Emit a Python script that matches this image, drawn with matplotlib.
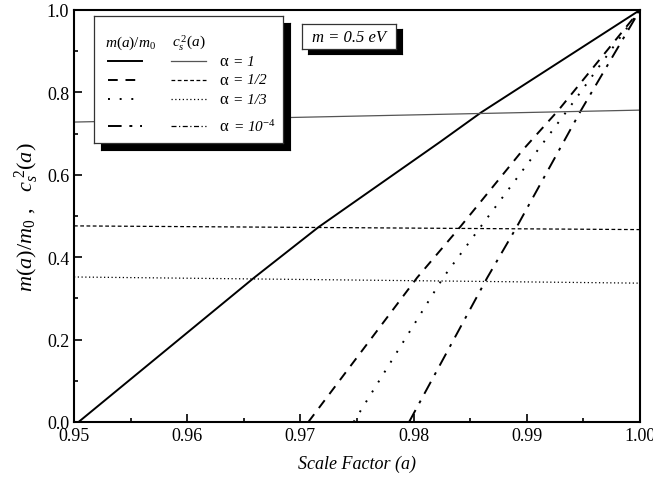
import numpy as np
import matplotlib
matplotlib.use('Agg')
import matplotlib.pyplot as plt
from matplotlib.ticker import MultipleLocator

plt.rcParams['font.family'] = ['Liberation Serif', 'DejaVu Serif']
plt.rcParams['mathtext.fontset'] = 'custom'
plt.rcParams['mathtext.rm'] = 'Liberation Serif'
plt.rcParams['mathtext.it'] = 'Liberation Serif:italic'

# values
alpha_labels = ['= 1', '= 1/2', '= 1/3', r'= 10$^{-4}$']
mass_a = [
    [0.9504, 0.9659, 0.9716, 0.9823, 0.9860, 1.0000],
    [0.9707, 0.9803, 0.9841, 0.9897, 0.9928, 1.0000],
    [0.9747, 0.9826, 0.9859, 0.9936, 1.0000],
    [0.9796, 0.9865, 0.9891, 0.9948, 1.0000],
]
mass_v = [
    [0.0, 0.350, 0.473, 0.679, 0.752, 1.0],
    [0.0, 0.350, 0.473, 0.662, 0.757, 1.0],
    [0.0, 0.350, 0.473, 0.757, 1.0],
    [0.0, 0.350, 0.473, 0.757, 1.0],
]
cs2_a = [0.95, 1.00]
cs2_v = [[0.728, 0.757], [0.476, 0.467], [0.352, 0.337], [0.0005, 0.0005]]

mass_styles = ['-', (0, (5, 4)), (0, (1, 5)), (0, (7, 4, 1.5, 4))]
cs2_styles = ['-', (0, (3, 2)), (0, (1, 2)), (0, (4, 2, 1, 2))]
cs2_colors = ['#555555', 'black', 'black', 'black']

W, H = 653, 489


def px(x0, y0, w, h):
    return [x0 / W, 1 - (y0 + h) / H, w / W, h / H]


fig = plt.figure(figsize=(W / 100, H / 100), dpi=100)
ax = fig.add_axes(px(74, 11, 566, 412))
ax.set_zorder(0)

for a, v, ls in zip(mass_a, mass_v, mass_styles):
    ax.plot(a, v, color='black', lw=1.4, ls=ls)
for v, ls, c in zip(cs2_v, cs2_styles, cs2_colors):
    ax.plot(cs2_a, v, color=c, lw=0.9, ls=ls)

ax.set_xlim(0.95, 1.00)
ax.set_ylim(0.0, 1.0)
ax.xaxis.set_major_locator(MultipleLocator(0.01))
ax.xaxis.set_minor_locator(MultipleLocator(0.005))
ax.yaxis.set_major_locator(MultipleLocator(0.2))
ax.yaxis.set_minor_locator(MultipleLocator(0.1))
ax.xaxis.set_major_formatter(plt.FormatStrFormatter('%.2f'))
ax.yaxis.set_major_formatter(plt.FormatStrFormatter('%.1f'))
ax.tick_params(which='both', direction='in', labelsize=13, width=1.2)
ax.tick_params(which='major', length=6)
ax.tick_params(which='minor', length=3)
for s in ax.spines.values():
    s.set_linewidth(1.5)

ax.set_xlabel('Scale Factor (a)', fontsize=13, style='italic', labelpad=8)
ax.set_ylabel(r'$m(a)/m_0$ ,   $c_s^{\;2}(a)$', fontsize=16, labelpad=4)

# legend box with drop shadow
sh = fig.add_axes(px(101, 24, 189, 127))
sh.set_facecolor('black')
sh.set_xticks([])
sh.set_yticks([])
sh.set_zorder(1)

lg = fig.add_axes(px(94, 17, 189, 127))
lg.set_zorder(2)
lg.set_xlim(0, 189)
lg.set_ylim(127, 0)
lg.set_xticks([])
lg.set_yticks([])
for s in lg.spines.values():
    s.set_linewidth(0.9)
    s.set_edgecolor('#333333')

lg.text(11, 26, r'$m(a)/m_0$', fontsize=11, va='center')
lg.text(78, 26, r'$c_s^{\,2}(a)$', fontsize=11, va='center')
row_y = [45, 64, 83, 110]
for y, lab, ms, cs, c in zip(row_y, alpha_labels, mass_styles, cs2_styles, cs2_colors):
    lg.plot([14, 48], [y, y], color='black', lw=1.4, ls=ms)
    lg.plot([77, 112], [y, y], color=c, lw=0.9, ls=cs)
    lg.text(125, y, '\u03b1', fontsize=12, va='center')
    lg.text(139, y, lab, fontsize=11, style='italic', va='center')

# mass box with shadow
sh2 = fig.add_axes(px(308, 30, 94, 25))
sh2.set_facecolor('black')
sh2.set_xticks([])
sh2.set_yticks([])
sh2.set_zorder(1)

mb = fig.add_axes(px(302, 25, 94, 25))
mb.set_zorder(2)
mb.set_xticks([])
mb.set_yticks([])
for s in mb.spines.values():
    s.set_linewidth(0.9)
    s.set_edgecolor('#333333')
mb.text(0.5, 0.5, 'm = 0.5 eV', fontsize=12, style='italic',
        ha='center', va='center', transform=mb.transAxes)

fig.savefig('out.png', dpi=100)
